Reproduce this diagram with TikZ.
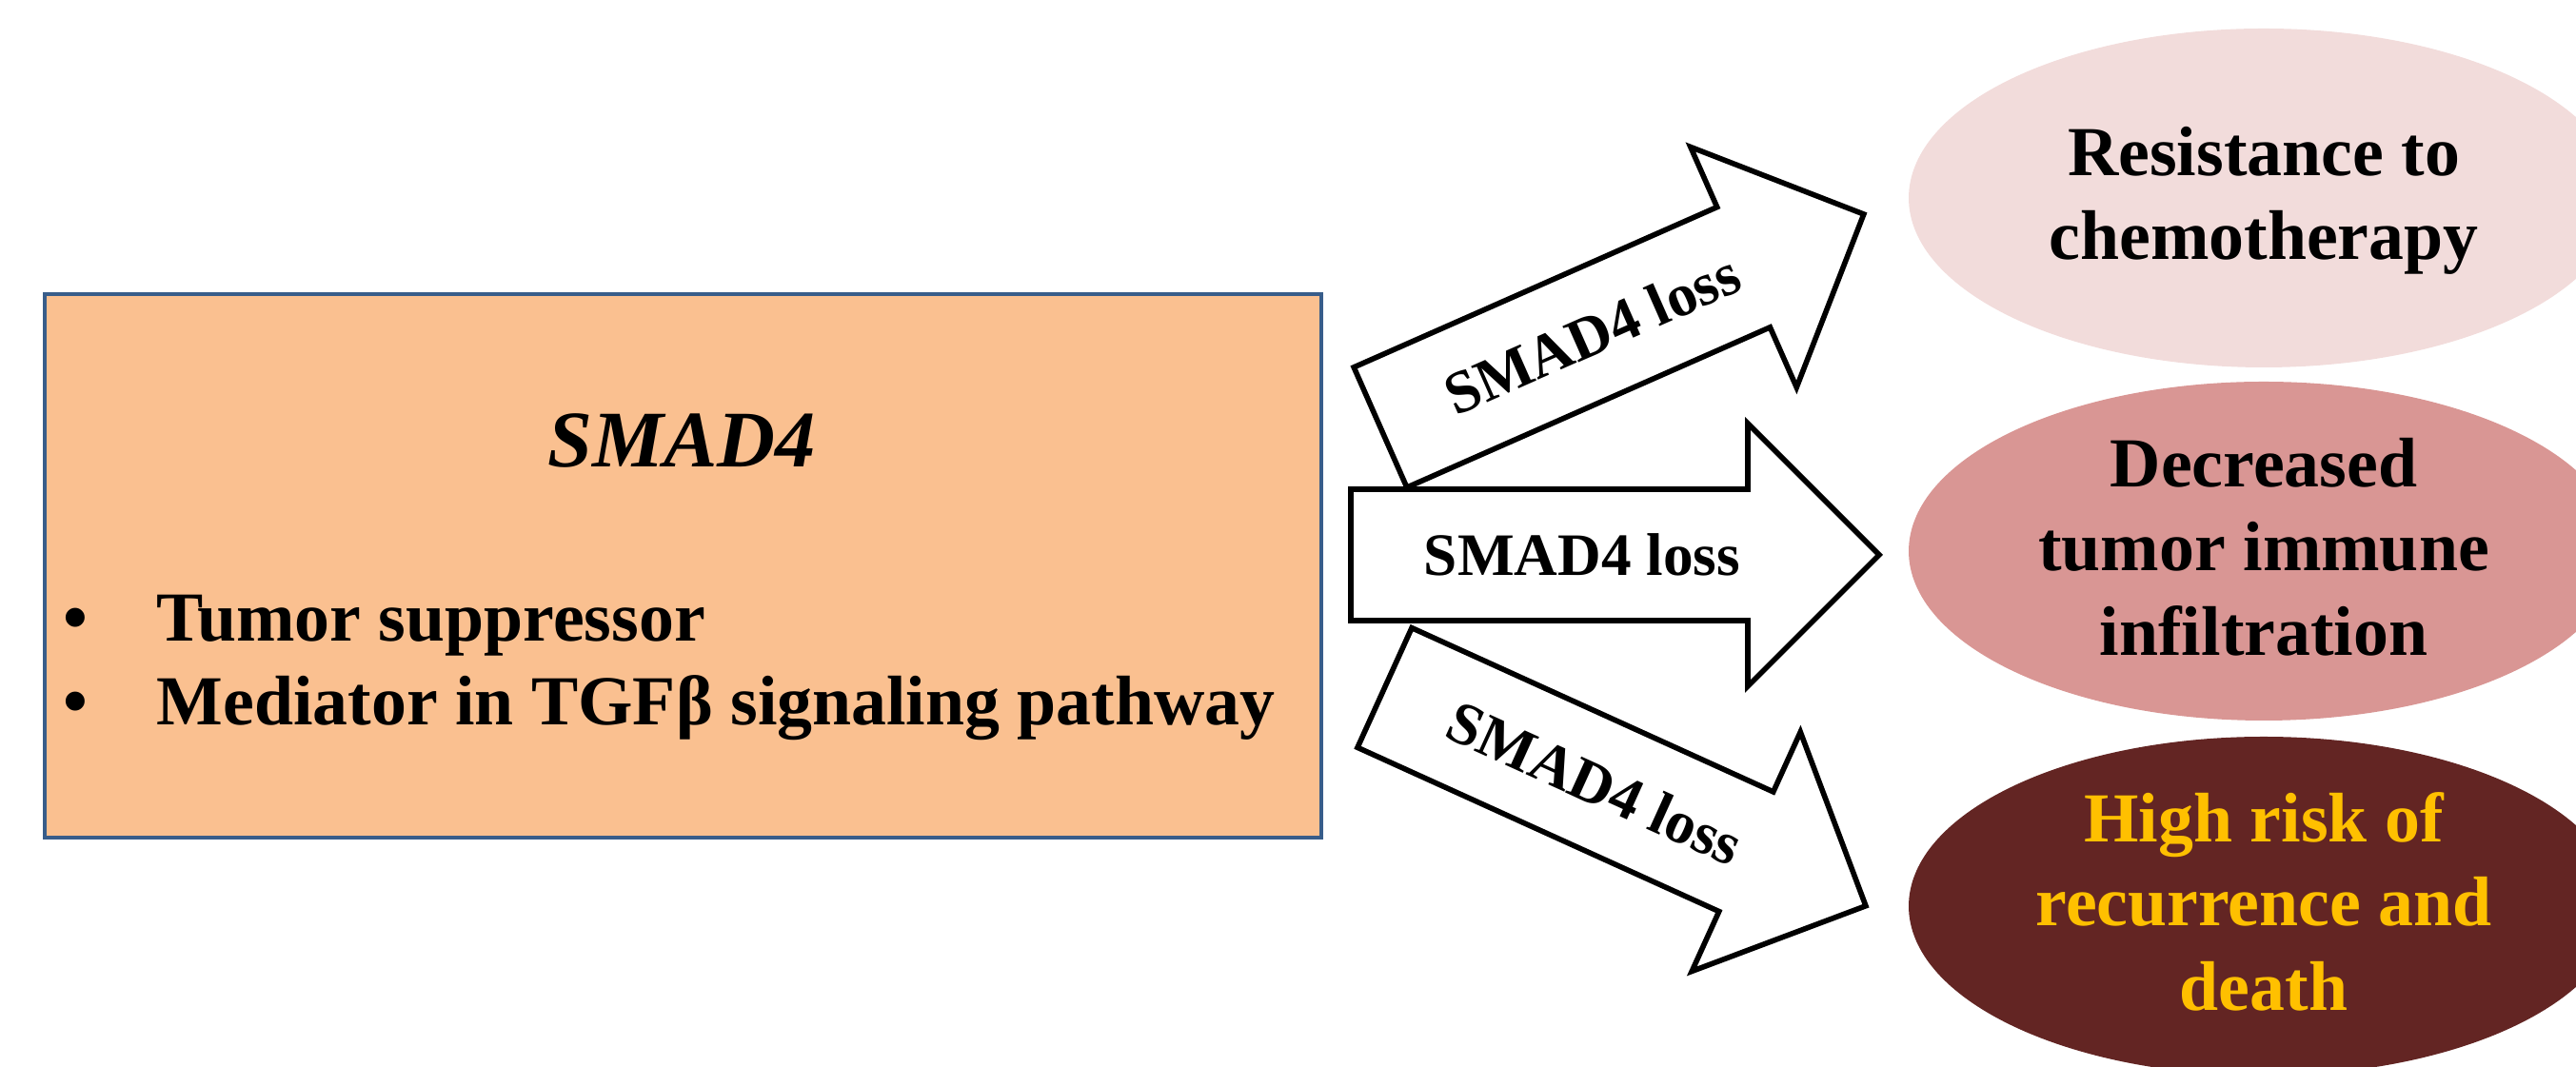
\documentclass[tikz,border=0pt]{standalone}
\usepackage{fontspec}
\setmainfont{Liberation Serif}
\usetikzlibrary{shapes.geometric}
\definecolor{boxfill}{HTML}{FAC090}
\definecolor{boxline}{HTML}{385D8A}
\definecolor{pale}{HTML}{F2DCDB}
\definecolor{rose}{HTML}{D99694}
\definecolor{maroon}{HTML}{632523}
\definecolor{gold}{HTML}{FFC000}
\begin{document}
\begin{tikzpicture}[every node/.style={font=\bfseries\fontsize{21}{25.2}\selectfont, inner sep=0pt},
  blob/.style={ellipse, minimum width=7.46cm, minimum height=3.56cm, align=center, text depth=0.1cm},
  blockarrow/.style={draw, fill=white, line width=1.6pt, line join=miter}]
\useasboundingbox (0,0) rectangle (27.06,11.21);
\clip (0,0) rectangle (27.06,11.21);
% gene box
\node[draw=boxline, line width=1.2pt, fill=boxfill, minimum width=13.41cm, minimum height=5.71cm] (smad) at (7.175,5.265) {};
\node[font=\bfseries\itshape\fontsize{24}{28}\selectfont, anchor=base] (title) at (7.16,6.30) {SMAD4};
\node[anchor=base west, align=left] (roles) at (0.66,3.59) {\makebox[0.98cm][l]{•}Tumor suppressor\\\makebox[0.98cm][l]{•}Mediator in TGFβ signaling pathway};
% outcomes
\node[blob, fill=pale] (resist) at (23.78,9.13) {Resistance to\\chemotherapy};
\node[blob, fill=rose] (immune) at (23.78,5.42) {Decreased\\tumor immune\\infiltration};
\node[blob, fill=maroon, text=gold] (risk) at (23.78,1.69) {High risk of\\recurrence and\\death};
% loss arrows
\foreach \n/\a/\x/\y in {1/23.8/14.50/6.72, 2/0/14.19/5.38, 3/-24.4/14.545/3.985}{
  \begin{scope}[shift={(\x,\y)}, rotate=\a]
    \draw[blockarrow] (0,0.69) -- (4.17,0.69) -- (4.17,1.38) -- (5.55,0) -- (4.17,-1.38) -- (4.17,-0.69) -- (0,-0.69) -- cycle;
    \node[font=\bfseries\fontsize{18}{21}\selectfont, rotate=\a] (loss\n) at (2.43,0) {SMAD4 loss};
  \end{scope}
}
\end{tikzpicture}
\end{document}
